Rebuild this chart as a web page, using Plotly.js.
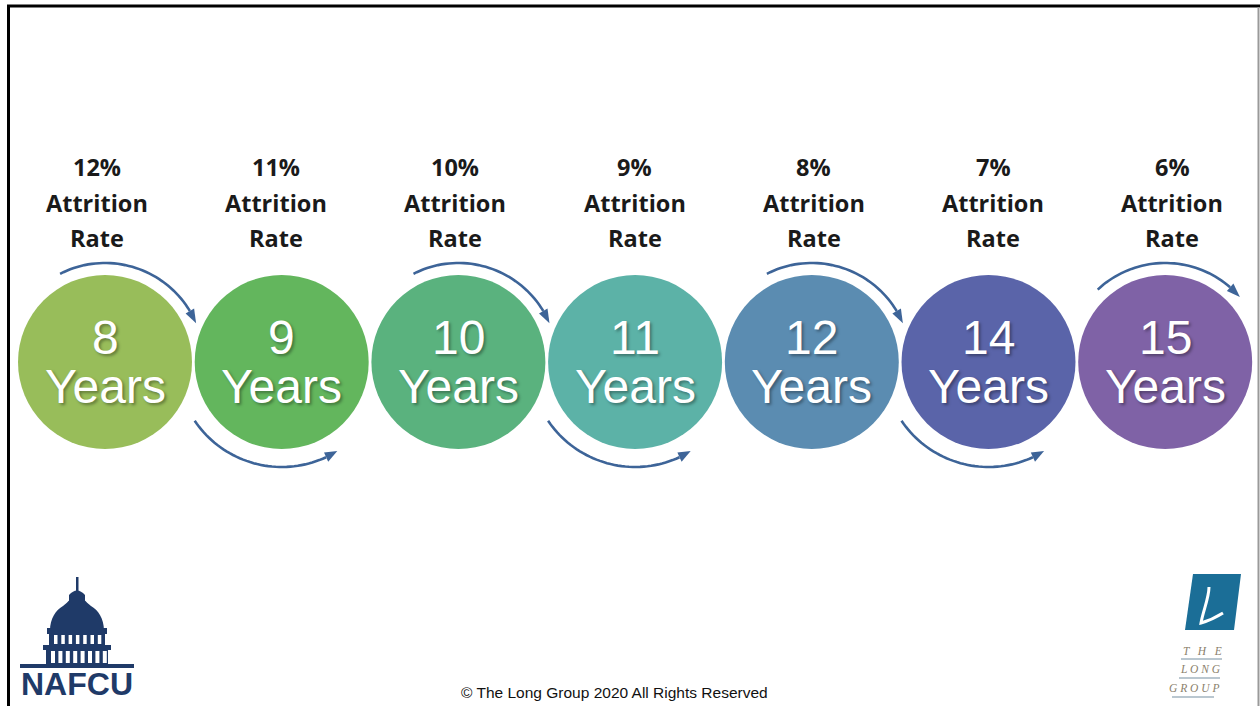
<!DOCTYPE html>
<html><head><meta charset="utf-8">
<script src="https://cdn.plot.ly/plotly-3.0.1.min.js"></script>
<style>html,body{margin:0;padding:0;background:#fff;overflow:hidden;}</style>
</head><body><div id="chart" style="width:1260px;height:706px;"></div>
<script>
// ---- data ----
const years = [8, 9, 10, 11, 12, 14, 15];
const attritionRates = [12, 11, 10, 9, 8, 7, 6];
const yearWord = 'Years';
const rateLine2 = 'Attrition';
const rateLine3 = 'Rate';
const circleColors = ['#98bd5a', '#63b65d', '#5ab27e', '#5cb2a7', '#5b8cb1', '#5a64a9', '#7f62a6'];
const arrowSide = ['top', 'bottom', 'top', 'bottom', 'top', 'bottom', 'top'];
const copyrightText = '© The Long Group 2020 All Rights Reserved';

// ---- layout constants ----
const X0 = 105, DX = 176.7, CY = 362, DIAM = 174;
const TX0 = 97, TDX = 179.2;
const cx = years.map((_, i) => X0 + i * DX);
const tx = years.map((_, i) => TX0 + i * TDX);
const ARROW = '#3d6498';
// arc angles [start, lineEnd, tip] per circle
const arcAngles = [[117, 31, 23], [214, 295, 302], [117, 31, 23], [214, 295, 302], [117, 31, 23], [214, 295, 302], [133, 49, 41]];

function arcPath(x, y, R, a0, a1, n) {
  const pts = [];
  for (let k = 0; k <= n; k++) {
    const a = (a0 + (a1 - a0) * k / n) * Math.PI / 180;
    pts.push((x + R * Math.cos(a)).toFixed(1) + ',' + (y - R * Math.sin(a)).toFixed(1));
  }
  return 'M' + pts.join('L');
}
function headPath(x, y, R, aBase, aTip, hw) {
  const b = aBase * Math.PI / 180, t = aTip * Math.PI / 180;
  const bx = x + R * Math.cos(b), by = y - R * Math.sin(b);
  const tx = x + R * Math.cos(t), ty = y - R * Math.sin(t);
  const rx = Math.cos(b), ry = -Math.sin(b);
  return `M${tx.toFixed(1)},${ty.toFixed(1)}L${(bx + rx * hw).toFixed(1)},${(by + ry * hw).toFixed(1)}L${(bx - rx * hw).toFixed(1)},${(by - ry * hw).toFixed(1)}Z`;
}

const shapes = [];
const annotations = [];

// arrows
cx.forEach((x, i) => {
  const R = arrowSide[i] === 'top' ? 99 : 105;
  const [a0, a1, at] = arcAngles[i];
  shapes.push({type: 'path', xref: 'x', yref: 'y', path: arcPath(x, CY, R, a0, a1, 40), line: {color: ARROW, width: 2.6}, layer: 'above'});
  shapes.push({type: 'path', xref: 'x', yref: 'y', path: headPath(x, CY, R, a1, at, 5), fillcolor: ARROW, line: {width: 0}, layer: 'above'});
});

// text in circles and above
const shadow = '2px 2px 3px rgba(0,0,0,0.35)';
cx.forEach((x, i) => {
  annotations.push({x: x, y: 337, xref: 'x', yref: 'y', text: String(years[i]), showarrow: false,
    font: {family: 'Liberation Sans, Arial, sans-serif', size: 48, color: '#ffffff', shadow: shadow}});
  annotations.push({x: x, y: 386, xref: 'x', yref: 'y', text: yearWord, showarrow: false,
    font: {family: 'Liberation Sans, Arial, sans-serif', size: 48, color: '#ffffff', shadow: shadow}});
  const f = {family: 'Open Sans, sans-serif', size: 23.5, color: '#1a1a1a', weight: 700};
  annotations.push({x: tx[i], y: 167, xref: 'x', yref: 'y', text: attritionRates[i] + '%', showarrow: false, font: f});
  annotations.push({x: tx[i], y: 203, xref: 'x', yref: 'y', text: rateLine2, showarrow: false, font: f});
  annotations.push({x: tx[i], y: 238, xref: 'x', yref: 'y', text: rateLine3, showarrow: false, font: f});
});

// copyright
annotations.push({x: 614, y: 692, xref: 'x', yref: 'y', text: copyrightText, showarrow: false,
  font: {family: 'Liberation Sans, Arial, sans-serif', size: 15.5, color: '#111111'}});

// ---- NAFCU logo ----
const NAVY = '#1f3a68';
const rect = (x0, y0, x1, y1, c) => ({type: 'rect', xref: 'x', yref: 'y', x0, y0, x1, y1, fillcolor: c, line: {width: 0}, layer: 'above'});
shapes.push(rect(76, 577, 78.5, 591, NAVY));
shapes.push({type: 'path', xref: 'x', yref: 'y', path: 'M69,603 L69,595 Q77,586 85,595 L85,603 Z', fillcolor: NAVY, line: {width: 0}, layer: 'above'});
shapes.push({type: 'path', xref: 'x', yref: 'y', path: 'M50,631 C50,618 56,610 63,606 C66,604 68,601 70,600 L84,600 C86,601 88,604 91,606 C98,610 104,618 104,631 Z', fillcolor: NAVY, line: {width: 0}, layer: 'above'});
shapes.push(rect(47, 628, 107, 634, NAVY));
shapes.push(rect(49, 633, 105, 646, NAVY));
for (let k = 0; k < 7; k++) shapes.push(rect(54 + k * 7.3, 635, 57.5 + k * 7.3, 644, '#ffffff'));
shapes.push(rect(43, 645, 111, 650, NAVY));
shapes.push(rect(46, 649, 108, 665, NAVY));
for (let k = 0; k < 8; k++) shapes.push(rect(51 + k * 7.4, 651, 55 + k * 7.4, 663, '#ffffff'));
shapes.push(rect(20, 664, 134, 668, NAVY));
annotations.push({x: 77, y: 703, xref: 'x', yref: 'y', yanchor: 'bottom', text: 'NAFCU', showarrow: false, borderpad: 0,
  font: {family: 'Liberation Sans, Arial, sans-serif', size: 32, color: NAVY, weight: 700}});

// ---- The Long Group logo ----
shapes.push({type: 'path', xref: 'x', yref: 'y', path: 'M1193,574 L1241,574 L1234,630 L1185,630 Z', fillcolor: '#1b6e97', line: {width: 0}, layer: 'above'});
shapes.push({type: 'path', xref: 'x', yref: 'y', path: 'M1209,587 C1209,598 1203,611 1201,623 C1208,621 1215,618 1223,613',
  line: {color: '#ffffff', width: 3}, layer: 'above'});
const lgFont = {family: 'Liberation Serif, serif', size: 11.5, color: '#8b7f6c', style: 'italic'};
annotations.push({x: 1202, y: 651, xref: 'x', yref: 'y', text: 'T   H   E', showarrow: false, font: lgFont});
annotations.push({x: 1200, y: 669, xref: 'x', yref: 'y', text: 'L O N G', showarrow: false, font: lgFont});
annotations.push({x: 1194, y: 688, xref: 'x', yref: 'y', text: 'G R O U P', showarrow: false, font: lgFont});
const lgLine = (x0, x1, y) => ({type: 'line', xref: 'x', yref: 'y', x0, x1, y0: y, y1: y, line: {color: '#a3b4c0', width: 1.5}, layer: 'above'});
shapes.push(lgLine(1181, 1222, 659));
shapes.push(lgLine(1179, 1220, 678));
shapes.push(lgLine(1172, 1214, 697));

// ---- frame ----
shapes.push({type: 'line', xref: 'x', yref: 'y', x0: 7, x1: 1260, y0: 6, y1: 6, line: {color: '#000000', width: 3}, layer: 'above'});
shapes.push({type: 'line', xref: 'x', yref: 'y', x0: 8.5, x1: 8.5, y0: 5, y1: 706, line: {color: '#000000', width: 3}, layer: 'above'});
shapes.push({type: 'line', xref: 'x', yref: 'y', x0: 1258.5, x1: 1258.5, y0: 7, y1: 706, line: {color: '#9a9a9a', width: 2}, layer: 'above'});

const trace = {
  type: 'scatter', mode: 'markers', x: cx, y: cx.map(() => CY),
  marker: {size: DIAM, color: circleColors, line: {width: 0}, opacity: 1},
  hoverinfo: 'skip', showlegend: false, cliponaxis: false
};

const layout = {
  width: 1260, height: 706, margin: {l: 0, r: 0, t: 0, b: 0},
  paper_bgcolor: '#ffffff', plot_bgcolor: '#ffffff',
  xaxis: {range: [0, 1260], visible: false, fixedrange: true},
  yaxis: {range: [706, 0], visible: false, fixedrange: true},
  shapes: shapes, annotations: annotations, showlegend: false
};
Plotly.newPlot('chart', [trace], layout, {staticPlot: true, displayModeBar: false});
</script></body></html>
